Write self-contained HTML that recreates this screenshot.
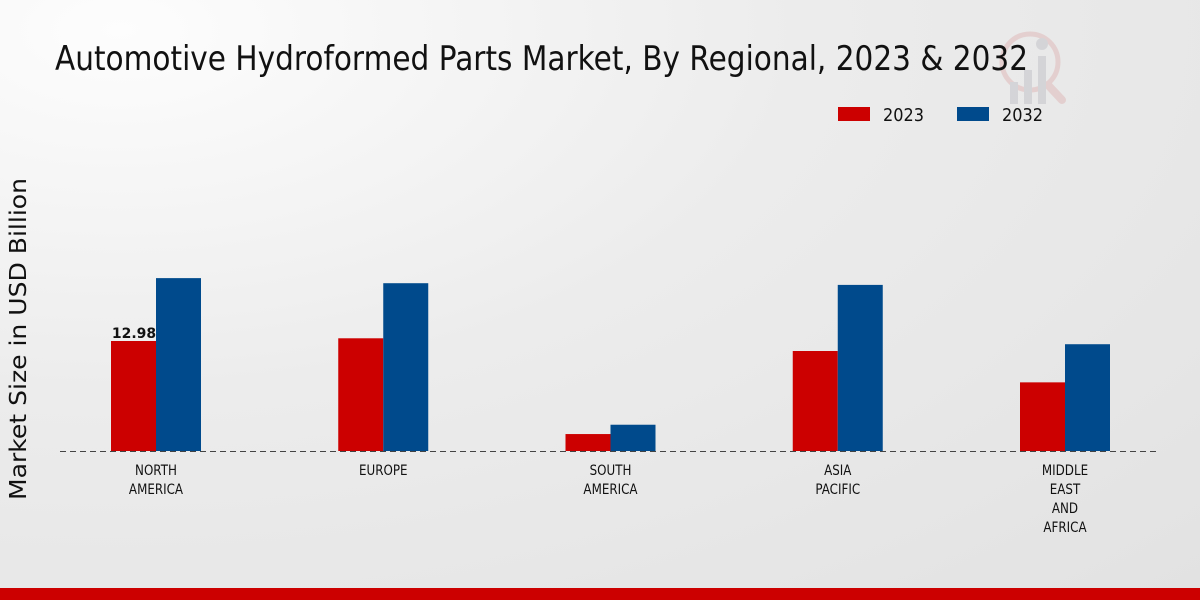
<!DOCTYPE html>
<html><head><meta charset="utf-8"><style>
html,body{margin:0;padding:0;width:1200px;height:600px;overflow:hidden}
body{background:radial-gradient(ellipse at 10% 5%,#fdfdfd 0%,#ececec 45%,#e2e2e2 100%);font-family:"DejaVu Sans","Liberation Sans",sans-serif}
</style></head><body>
<svg id="chart" width="1200" height="600" xmlns="http://www.w3.org/2000/svg">
<g opacity="0.35">
<circle cx="1030" cy="62" r="28" fill="none" stroke="#d9a0a0" stroke-width="5"/>
<line x1="1048" y1="85" x2="1062" y2="100" stroke="#d9a0a0" stroke-width="8" stroke-linecap="round"/>
<circle cx="1042" cy="44" r="6" fill="#b0b0b8"/>
<rect x="1010" y="82" width="8" height="22" fill="#b0b0b8"/><rect x="1024" y="70" width="8" height="34" fill="#b0b0b8"/><rect x="1038" y="56" width="8" height="48" fill="#b0b0b8"/>
</g>
<text x="55" y="70" font-size="34" textLength="973" lengthAdjust="spacingAndGlyphs" fill="#111">Automotive Hydroformed Parts Market, By Regional, 2023 &amp; 2032</text>
<g>
<rect x="838" y="107" width="32" height="14" fill="#cc0000"/>
<text x="883" y="121" font-size="18" textLength="41" lengthAdjust="spacingAndGlyphs" fill="#111">2023</text>
<rect x="957" y="107" width="32" height="14" fill="#004a8c"/>
<text x="1002" y="121" font-size="18" textLength="41" lengthAdjust="spacingAndGlyphs" fill="#111">2032</text>
</g>
<text transform="translate(26,339) rotate(-90)" text-anchor="middle" font-size="23" textLength="322" lengthAdjust="spacingAndGlyphs" fill="#111">Market Size in USD Billion</text>
<g id="bars"></g>
<line x1="60" y1="451.5" x2="1160" y2="451.5" stroke="#444" stroke-dasharray="6,4" stroke-width="1"/>
<g id="labels"></g>
<rect x="0" y="588" width="1200" height="12" fill="#cc0000"/>
</svg>
<script>
const categories=[["NORTH","AMERICA"],["EUROPE"],["SOUTH","AMERICA"],["ASIA","PACIFIC"],["MIDDLE","EAST","AND","AFRICA"]];
const values2023=[12.98,13.3,2.0,11.8,8.1];
const values2032=[20.4,19.8,3.1,19.6,12.6];
const NS="http://www.w3.org/2000/svg";
const baseY=451, pxPerUnit=110/12.98;
function yScale(v){return baseY-v*pxPerUnit;}
function xCenter(i){return 156+i*227.25;}
const bars=document.getElementById('bars'), labels=document.getElementById('labels');
categories.forEach((c,i)=>{
 [[values2023,'#cc0000',-45,'2023'],[values2032,'#004a8c',0,'2032']].forEach(([arr,col,off,yr])=>{
  const r=document.createElementNS(NS,'rect');
  r.setAttribute('x',xCenter(i)+off);r.setAttribute('y',yScale(arr[i]));
  r.setAttribute('width',45);r.setAttribute('height',baseY-yScale(arr[i]));r.setAttribute('fill',col);
  
  
  bars.appendChild(r);
 });
 c.forEach((line,j)=>{
  const t=document.createElementNS(NS,'text');
  t.setAttribute('x',xCenter(i));t.setAttribute('y',475+j*19);
  t.setAttribute('text-anchor','middle');t.setAttribute('font-size','14');t.setAttribute('fill','#111');
  t.setAttribute('transform','translate('+xCenter(i)+',0) scale(0.85,1) translate('+(-xCenter(i))+',0)');
  t.textContent=line;
  
  
  labels.appendChild(t);
 });
});
const v=document.createElementNS(NS,'text');
v.setAttribute('x',xCenter(0)-22);v.setAttribute('y',yScale(values2023[0])-3);
v.setAttribute('text-anchor','middle');v.setAttribute('font-size','14');v.setAttribute('font-weight','bold');v.setAttribute('fill','#111');
v.textContent=values2023[0].toFixed(2);


labels.appendChild(v);
</script>
</body></html>
